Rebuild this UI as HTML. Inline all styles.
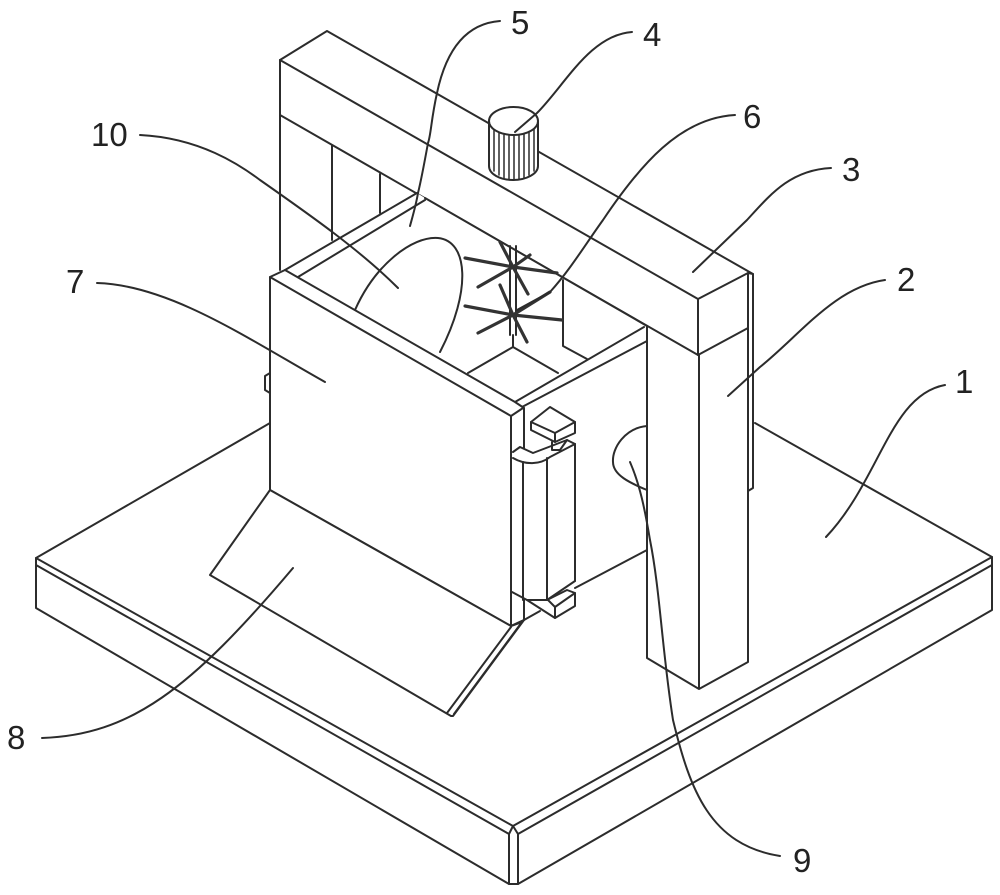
<!DOCTYPE html>
<html>
<head>
<meta charset="utf-8">
<style>
html,body{margin:0;padding:0;background:#fff;width:1000px;height:895px;overflow:hidden}
svg{display:block;filter:blur(.35px)}
text{font-family:"Liberation Sans",sans-serif;font-size:33px;fill:#222}
.l{fill:none;stroke:#2c2c2c;stroke-width:2;stroke-linecap:round;stroke-linejoin:round}
.f{fill:#fff;stroke:#2c2c2c;stroke-width:2;stroke-linejoin:round}
.b{fill:none;stroke:#333;stroke-width:3.2;stroke-linecap:round}
.t{fill:none;stroke:#2c2c2c;stroke-width:1.5;stroke-linecap:round}
</style>
</head>
<body>
<svg width="1000" height="895" viewBox="0 0 1000 895" xmlns="http://www.w3.org/2000/svg">
<rect width="1000" height="895" fill="#fff"/>

<!-- base -->
<g class="l">
<path d="M270 423L36 558L513 826L992 557L755 423"/>
<path d="M36 558V608L509 884H518L992 610V557"/>
<path d="M36 565L509 834L513 826L518 834L992 565"/>
<path d="M509 834V884M518 834V884"/>
</g>

<!-- frame: left post and back pillars -->
<g class="l">
<path d="M280 60V270"/>
<path d="M332 145V240M380 174V213"/>
<path d="M753 274V488L748 491"/>
</g>

<!-- column -->
<path d="M647 326L699 355L748 328V662L699 689L647 658Z" fill="#fff"/>
<path class="l" d="M647 326V658L699 689L748 662V328M699 355V689"/>

<!-- beam -->
<path class="f" d="M280 60L327 31L753 274L748 273V328L698 355L280 115Z"/>
<path class="l" d="M280 60L698 299L748 273M698 299V355"/>

<!-- motor -->
<path class="f" d="M489 121V166C489 174 500 180 513 180C526 180 538 174 538 166V121Z"/>
<ellipse class="f" cx="513.500" cy="121" rx="24.500" ry="14"/>
<path class="t" d="M494 130V171M499 133V175M504 135V178M509 135V179M514 135V180M519 135V179M524 134V178M529 132V175M534 129V171"/>

<!-- box wall and rims -->
<path d="M285 270L417 193L425 198L647 326V550L570 590L515 600V402Z" fill="#fff"/>
<path class="l" d="M425 198L647 326"/>
<path class="l" d="M285 270L417 193M298 277L425 200"/>
<path class="l" d="M515 402L644 327M522 407L647 341M647 326V550L575 588"/>

<!-- interior -->
<g class="l">
<path d="M468 373L513 347L558 373"/>
<path d="M513 335V347"/>
<path d="M563 280V346L587 359"/>
<path d="M510 246V335M516 246V335"/>
</g>
<g class="b">
<path d="M465 258L513 267L557 273"/>
<path d="M478 287L513 267L528 294"/>
<path d="M500 242L513 267L530 255"/>
<path d="M465 306L513 315L562 320"/>
<path d="M478 333L513 315L550 292"/>
<path d="M500 285L513 315L527 342"/>
</g>

<!-- disc -->
<path class="l" d="M355 310C375 265 412 236 438 238C468 241 472 290 440 352"/>

<!-- knob 9 -->
<path class="l" d="M647 426C625 428 612 448 613 462C613 475 630 483 647 490"/>

<!-- left nub -->
<path class="l" d="M270 373L265 376V390L270 393"/>

<!-- front panel -->
<path class="f" d="M270 277L285 270L515 402L524 408V620L511 626L270 490Z"/>
<path class="l" d="M270 277L511 416L523 408M511 416V626M524 408V447"/>

<!-- chute -->
<path class="f" d="M270 490L511 626L524 620L453 716L451 716L210 575Z"/>
<path class="l" d="M511 627L447 713M522 622L454 714M511 626L522 622"/>

<!-- hinge housing -->
<path d="M513 451L520 447L533 453L567 440L575 444V581L547 600L527 600L513 592Z" fill="#fff"/>
<g class="l">
<path d="M513 452L520 447L533 453L567 440L575 444"/>
<path d="M513 458C525 465 540 465 550 457L575 444"/>
<path d="M523 462V600M547 458V600M575 444V581"/>
<path d="M512 592L527 600H547L575 581"/>
<path d="M524 620L540 611"/>
</g>
<!-- top block -->
<path class="f" d="M531 422L550 407L575 422V433L555 442L531 430Z"/>
<path class="l" d="M531 422L555 433L575 422M555 433V442"/>
<path class="l" d="M552 442V450L560 450L567 440"/>
<!-- bottom block -->
<path class="f" d="M527 600L547 600L567 590L575 593V606L555 618Z"/>
<path class="l" d="M548 600L555 607L575 593M555 607V618"/>

<!-- leaders -->
<g class="l">
<path d="M500 21C460 24 444 60 437 93C431 120 431 135 428 143C424 165 420 185 418 193C416 205 413 215 410 226"/>
<path d="M632 32C590 35 565 85 537 113L515 132"/>
<path d="M735 115C680 118 640 165 603 220C585 245 570 270 550 292L517 310"/>
<path d="M831 168C790 170 770 195 747 220L693 272"/>
<path d="M885 280C835 287 800 335 760 367L728 396"/>
<path d="M945 385C890 395 880 480 826 537"/>
<path d="M140 135C200 138 240 165 260 180C310 215 360 250 398 288"/>
<path d="M97 283C170 285 250 340 325 382"/>
<path d="M42 738C130 735 190 690 293 568"/>
<path d="M780 856C710 845 690 790 673 720C662 650 660 590 650 540C645 510 640 485 630 462"/>
</g>

<!-- labels -->
<text x="511" y="34">5</text>
<text x="643" y="46">4</text>
<text x="743" y="128">6</text>
<text x="842" y="181">3</text>
<text x="897" y="291">2</text>
<text x="955" y="393">1</text>
<text x="91" y="146">10</text>
<text x="66" y="293">7</text>
<text x="7" y="749">8</text>
<text x="793" y="872">9</text>
</svg>
</body>
</html>
